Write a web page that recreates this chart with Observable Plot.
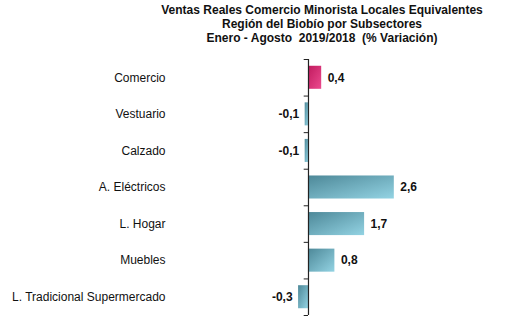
<!DOCTYPE html>
<html><head><meta charset="utf-8">
<script src="https://cdn.jsdelivr.net/npm/d3@7"></script>
<script src="https://cdn.jsdelivr.net/npm/@observablehq/plot@0.6"></script>
<style>
body{margin:0;background:#fff;font-family:"Liberation Sans",Arial,sans-serif;}
#title{height:50px;box-sizing:border-box;padding:3px 0 0 133px;width:511px;text-align:center;font-weight:bold;font-size:12px;line-height:14px;color:#111;}
</style></head><body>
<div id="title">Ventas Reales Comercio Minorista Locales Equivalentes<br>Región del Biobío por Subsectores<br>Enero - Agosto&nbsp; 2019/2018&nbsp; (% Variación)</div>
<div id="chart"></div>
<script>
const categories = ["Comercio","Vestuario","Calzado","A. Eléctricos","L. Hogar","Muebles","L. Tradicional Supermercado"];
const values = [0.4,-0.1,-0.1,2.6,1.7,0.8,-0.3];
const highlighted = ["Comercio"];

const data = categories.map((c,i)=>({cat:c, idx:i, value:values[i]}));
const fmt = v => v.toFixed(1).replace(".", ",");
const half = 0.315;
const boundaries = d3.range(categories.length + 1).map(i => i - 0.5);

const svg = Plot.plot({
  width: 511,
  height: 276,
  marginLeft: 170,
  marginRight: 0,
  marginTop: 9,
  marginBottom: 11,
  style: {fontFamily: "Liberation Sans, Arial, sans-serif", fontSize: "12px", color: "#111", background: "#fff"},
  x: {domain: [-4.18, 6.15], axis: null},
  y: {domain: [-0.5, categories.length - 0.5], reverse: true, axis: null},
  color: {type: "identity"},
  marks: [
    Plot.rectX(data, {
      x1: 0, x2: "value",
      y1: d => d.idx - half, y2: d => d.idx + half,
      fill: d => highlighted.includes(d.cat) ? "url(#gradPink)" : "url(#gradTeal)"
    }),
    Plot.ruleX([0], {y1: -0.5, y2: categories.length - 0.5, stroke: "#222", strokeWidth: 1.2}),
    Plot.ruleY(boundaries, {y: d => d, x1: -0.13, x2: 0, stroke: "#222", strokeWidth: 1}),
    Plot.axisY(d3.range(categories.length), {tickSize: 0, tickPadding: 5, label: null, tickFormat: i => categories[i], fontSize: 12, fill: "#111"}),
    Plot.text(data.filter(d => d.value >= 0), {x: "value", y: "idx", text: d => fmt(d.value), textAnchor: "start", dx: 6, fontWeight: "bold", fontSize: 12, fill: "#111"}),
    Plot.text(data.filter(d => d.value < 0), {x: "value", y: "idx", text: d => fmt(d.value), textAnchor: "end", dx: -6, fontWeight: "bold", fontSize: 12, fill: "#111"})
  ]
});
d3.select(svg).insert("defs", ":first-child").html(`
  <linearGradient id="gradTeal" x1="0" y1="0" x2="1" y2="1">
    <stop offset="0" stop-color="#4d8898"/>
    <stop offset="1" stop-color="#93d3e3"/>
  </linearGradient>
  <linearGradient id="gradPink" x1="0" y1="0" x2="1" y2="1">
    <stop offset="0" stop-color="#c01a5e"/>
    <stop offset="1" stop-color="#ec4a8e"/>
  </linearGradient>`);
document.getElementById("chart").appendChild(svg);
</script>
</body></html>
